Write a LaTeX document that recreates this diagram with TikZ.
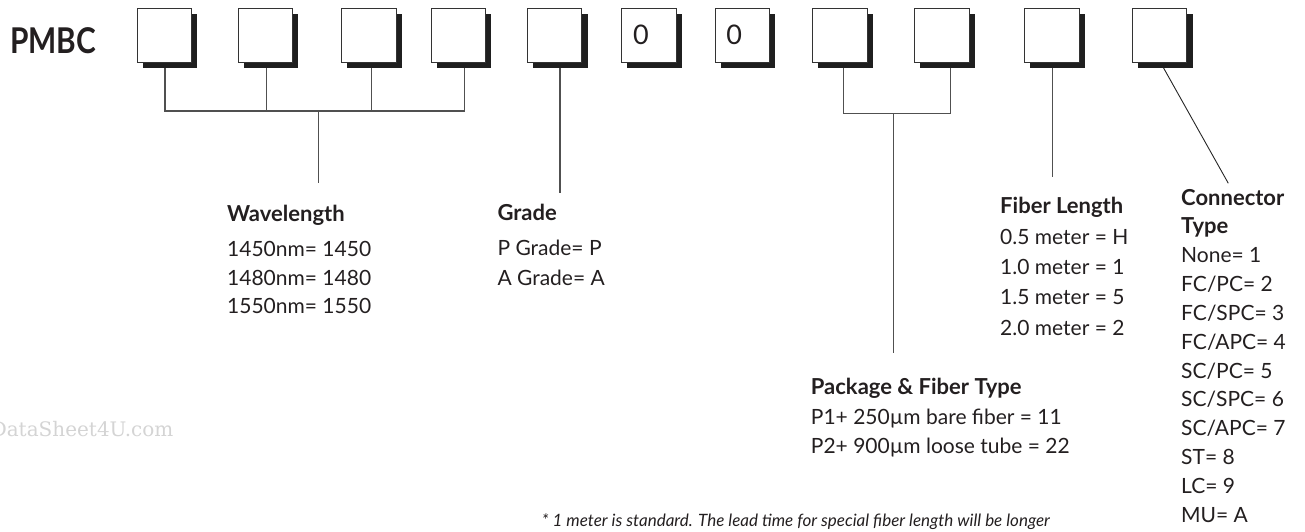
\documentclass[tikz,border=0pt]{standalone}
\usepackage{fontspec}
\setmainfont{Lato}
\newfontfamily\wmfont{DejaVu Serif}
\usetikzlibrary{shadows,backgrounds}
\definecolor{ink}{HTML}{231F20}
\definecolor{linec}{HTML}{505050}
\begin{document}
\begin{tikzpicture}[x=1pt,y=-1pt,
  codebox/.style={draw=black!80, line width=1pt, fill=white,
    minimum width=54.4pt, minimum height=54.4pt, inner sep=0pt,
    general shadow={fill=black!88, draw=none, shadow xshift=5.6pt, shadow yshift=-5.6pt}},
  zero/.style={inner sep=0pt, text=ink, font=\fontsize{27}{29}\selectfont},
  conn/.style={draw=linec, line width=1.1pt},
  txt/.style={anchor=base west, inner sep=0pt, text=ink, font=\fontsize{21}{24}\selectfont},
  hdr/.style={txt, font=\fontsize{22}{25}\selectfont\bfseries}]
\useasboundingbox (0,0) rectangle (1305,531);

% watermark
\node[anchor=base east, inner sep=0pt, text=black!17, font=\wmfont\fontsize{20}{22}\selectfont] (wm) at (173.5,436.7) {DataSheet4U.com};

% title
\node[anchor=base west, inner sep=0pt, text=ink, font=\fontsize{35.5}{38}\selectfont\bfseries] (pmbc) at (10,53.3) {\scalebox{0.84}[1]{PMBC}};

% boxes
\node[codebox] (b1) at (164.5,35.5) {};
\node[codebox] (b2) at (265.5,35.5) {};
\node[codebox] (b3) at (369,35.5) {};
\node[codebox] (b4) at (458.5,35.5) {};
\node[codebox] (b5) at (554.7,35.5) {};
\node[codebox] (b6) at (649,35.5) {};
\node[codebox] (b7) at (742.3,35.5) {};
\node[codebox] (b8) at (840,35.5) {};
\node[codebox] (b9) at (942,35.5) {};
\node[codebox] (b10) at (1052,35.5) {};
\node[codebox] (b11) at (1159.7,35.5) {};
\node[zero] (z6) at ([xshift=-8pt,yshift=0.8pt]b6.center) {0};
\node[zero] (z7) at ([xshift=-8pt,yshift=0.8pt]b7.center) {0};

% label blocks
\node[hdr] (wl) at (227,221.7) {Wavelength};
\node[txt] (wl1) at (227,256.7) {1450nm= 1450};
\node[txt] (wl2) at (227,285) {1480nm= 1480};
\node[txt] (wl3) at (227,313.3) {1550nm= 1550};

\node[hdr] (gr) at (497.3,220.7) {Grade};
\node[txt] (gr1) at (497.3,255.5) {P Grade= P};
\node[txt] (gr2) at (497.3,285) {A Grade= A};

\node[hdr] (pk) at (810.7,394) {Package \& Fiber Type};
\node[txt] (pk1) at (810.7,424) {P1+ 250µm bare fiber = 11};
\node[txt] (pk2) at (810.7,453.3) {P2+ 900µm loose tube = 22};

\node[hdr] (fl) at (1000,213.3) {Fiber Length};
\node[txt] (fl1) at (1000,244) {0.5 meter = H};
\node[txt] (fl2) at (1000,274.5) {1.0 meter = 1};
\node[txt] (fl3) at (1000,304.8) {1.5 meter = 5};
\node[txt] (fl4) at (1000,335.3) {2.0 meter = 2};

\node[hdr] (ct) at (1181,205) {Connector};
\node[hdr] (ct0) at (1181,233.3) {Type};
\foreach \t [count=\i] in {None= 1,FC/PC= 2,FC/SPC= 3,FC/APC= 4,SC/PC= 5,SC/SPC= 6,SC/APC= 7,ST= 8,LC= 9,MU= A}
  \node[txt] (ct\i) at (1181,205+28.85*\i+28.85) {\t};

\node[anchor=base west, inner sep=0pt, text=ink, font=\fontsize{17}{19}\selectfont\itshape] (note) at (541.7,526) {* 1 meter is standard. The lead time for special fiber length will be longer};

% connector free ends
\coordinate (wlend) at (318.3,183.3);
\coordinate (grend) at (560,193.3);
\coordinate (pkend) at (893.7,353);
\coordinate (flend) at (1052.7,177.3);
\coordinate (ctend) at (1228.3,183.3);

\begin{scope}[on background layer]
  \coordinate (w1) at ([xshift=0.5pt]b1.south);
  \coordinate (w2) at ([xshift=1.2pt]b2.south);
  \coordinate (w3) at ([xshift=2.3pt]b3.south);
  \coordinate (w4) at ([xshift=5.8pt]b4.south);
  \draw[conn] (w1) -- (w1 |- 0,111) -- (w4 |- 0,111) -- (w4);
  \draw[conn] (w2) -- (w2 |- 0,111);
  \draw[conn] (w3) -- (w3 |- 0,111);
  \draw[conn] (wlend |- 0,111) -- (wlend);
  \draw[conn] ([xshift=5.3pt]b5.south) -- (grend);
  \coordinate (p1) at ([xshift=3.3pt]b8.south);
  \coordinate (p2) at ([xshift=8.7pt]b9.south);
  \draw[conn] (p1) -- (p1 |- 0,113.3) -- (p2 |- 0,113.3) -- (p2);
  \draw[conn] (pkend |- 0,113.3) -- (pkend);
  \draw[conn] ([xshift=0.7pt]b10.south) -- (flend);
  \draw[conn, line width=0.9pt, draw=black!85] ([xshift=1.2pt]b11.south) -- (ctend);
\end{scope}
\end{tikzpicture}
\end{document}
